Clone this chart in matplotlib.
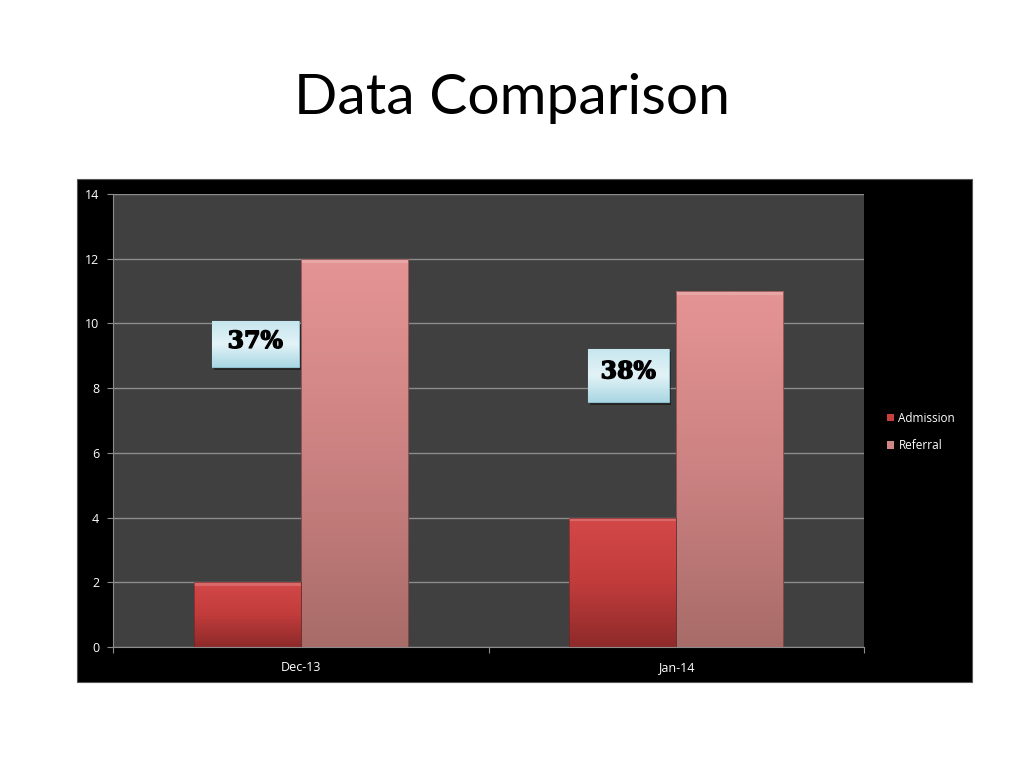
import numpy as np
import matplotlib
matplotlib.use("Agg")
import matplotlib.pyplot as plt
import matplotlib.patheffects as pe
from matplotlib.patches import Rectangle
from matplotlib.colors import LinearSegmentedColormap

categories = ["Dec-13", "Jan-14"]
admission = [2, 4]
referral = [12, 11]
series_names = ["Admission", "Referral"]
pct_labels = ["37%", "38%"]
yticks = [0, 2, 4, 6, 8, 10, 12, 14]

fig = plt.figure(figsize=(10.24, 7.68), dpi=100)
fig.patch.set_facecolor("white")

# title
fig.text(0.5, 1 - 98 / 768, "Data Comparison", ha="center", va="center",
         fontsize=41, family=["Lato", "DejaVu Sans"], color="black")

# black chart area
fig.patches.append(Rectangle((77 / 1024, 1 - 682 / 768), (972 - 77) / 1024, (682 - 179) / 768,
                             transform=fig.transFigure, facecolor="black", edgecolor="#555555",
                             lw=0.8, zorder=-5))

ax = fig.add_axes([113 / 1024, 1 - 647 / 768, 751 / 1024, 453 / 768])
ax.set_zorder(2)
ax.set_facecolor("#404040")
for s in ax.spines.values():
    s.set_visible(False)
ax.spines["left"].set_visible(True)
ax.spines["left"].set_color("#8c8c8c")
ax.spines["bottom"].set_visible(True)
ax.spines["bottom"].set_color("#8c8c8c")

ax.set_yticks(yticks)
ax.set_yticklabels([str(v) for v in yticks], color="white", fontsize=9,
                   family=["Open Sans", "DejaVu Sans"])
ax.tick_params(axis="y", length=4, color="#8c8c8c", pad=6)
ax.yaxis.grid(True, color="#8c8c8c", lw=1)
ax.set_axisbelow(True)

x = np.arange(len(categories))
ax.set_xticks([-0.5, 0.5, 1.5])
ax.set_xticklabels(["", "", ""])
ax.set_xticks(x, minor=True)
ax.set_xticklabels(categories, minor=True, color="white", fontsize=9,
                   family=["Open Sans", "DejaVu Sans"])
ax.tick_params(axis="x", which="major", length=4, color="#8c8c8c")
ax.tick_params(axis="x", which="minor", length=0, pad=10)

w = 0.285
adm_cmap = LinearSegmentedColormap.from_list("adm", ["#8e2a2a", "#c23c3c", "#d44848"])
ref_cmap = LinearSegmentedColormap.from_list("ref", ["#a86c68", "#cc8282", "#e59494"])
grad = np.linspace(0, 1, 256).reshape(-1, 1)

def gradient_bars(xs, vals, cmap, label):
    bars = ax.bar(xs, vals, width=w, color=cmap(0.6), edgecolor="none", label=label, zorder=2)
    for b in bars:
        x0, y0 = b.get_x(), b.get_y()
        bw, bh = b.get_width(), b.get_height()
        im = ax.imshow(grad, extent=[x0, x0 + bw, y0, y0 + bh], origin="lower", cmap=cmap,
                       aspect="auto", zorder=2.5)
        im.set_clip_path(b)
        ax.add_patch(Rectangle((x0, y0 + bh - 0.12), bw, 0.12, facecolor="white", alpha=0.18,
                               edgecolor="none", zorder=3))
        ax.add_patch(Rectangle((x0, y0), bw, bh, facecolor="none", edgecolor="#5a2020",
                               lw=0.6, alpha=0.6, zorder=3))
    return bars

b1 = gradient_bars(x - w / 2, admission, adm_cmap, series_names[0])
b2 = gradient_bars(x + w / 2, referral, ref_cmap, series_names[1])

# percentage callout boxes
box_cmap = LinearSegmentedColormap.from_list("box", ["#a9d7e3", "#e3f3f7", "#c6e6ee"])
boxes = [(-0.2367, 8.65, 0.2314, 1.42), (0.7646, 7.57, 0.2155, 1.64)]
text_frac = [0.57, 0.58]
for (bx, by, bw, bh), lab, tf in zip(boxes, pct_labels, text_frac):
    ax.add_patch(Rectangle((bx + 0.005, by - 0.1), bw, bh, facecolor="black", alpha=0.45,
                           edgecolor="none", zorder=4))
    r = Rectangle((bx, by), bw, bh, facecolor="#cdeaf1", edgecolor="#8fbfcc", lw=0.8, zorder=5)
    ax.add_patch(r)
    im = ax.imshow(grad, extent=[bx, bx + bw, by, by + bh], origin="lower", cmap=box_cmap,
                   aspect="auto", zorder=5.5)
    im.set_clip_path(r)
    ax.text(bx + bw / 2, by + bh * tf, lab, ha="center", va="center", fontsize=17,
            fontweight="bold", family=["DejaVu Serif", "Liberation Serif"], color="black",
            zorder=6, path_effects=[pe.withStroke(linewidth=1.0, foreground="black")])

ax.set_xlim(-0.5, 1.5)
ax.set_ylim(0, 14)

leg = fig.legend(handles=[b1, b2], labels=series_names, loc="upper left",
                 bbox_to_anchor=(876 / 1024, 1 - 401 / 768), frameon=False,
                 labelcolor="white", handlelength=0.6, handleheight=0.6,
                 handletextpad=0.4, labelspacing=1.25,
                 prop={"family": ["Open Sans", "DejaVu Sans"], "size": 8.5})

fig.savefig("out.png", dpi=100, facecolor="white")
